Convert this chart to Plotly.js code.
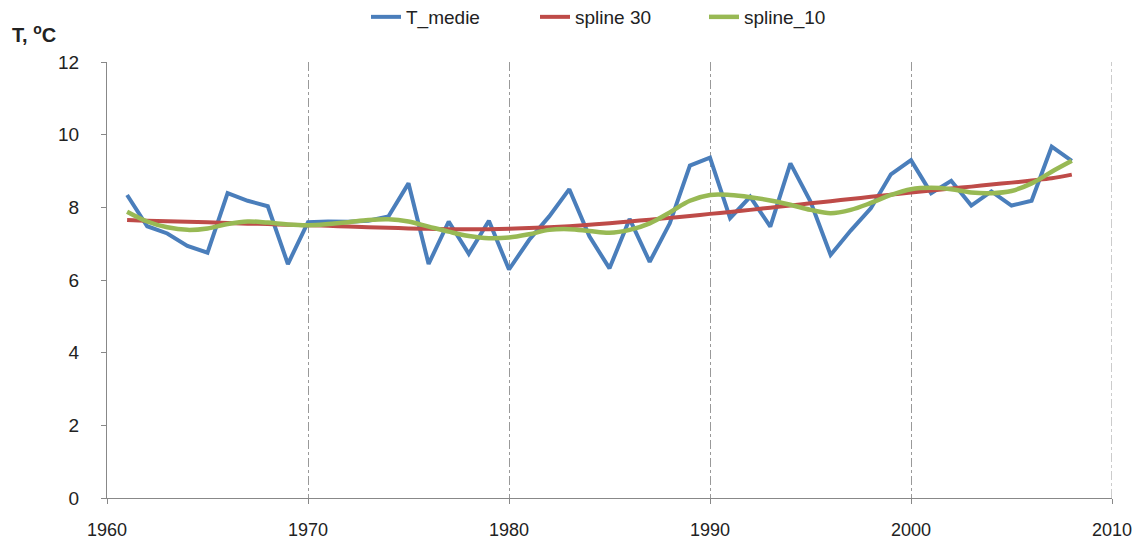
<!DOCTYPE html>
<html>
<head>
<meta charset="utf-8">
<script src="https://cdn.plot.ly/plotly-3.0.1.min.js"></script>
<style>html,body{margin:0;padding:0;background:#fff;}#chart{width:1145px;height:540px;}</style>
</head>
<body>
<div id="chart"></div>
<script>
const years = [1961,1962,1963,1964,1965,1966,1967,1968,1969,1970,1971,1972,1973,1974,1975,1976,1977,1978,1979,1980,1981,1982,1983,1984,1985,1986,1987,1988,1989,1990,1991,1992,1993,1994,1995,1996,1997,1998,1999,2000,2001,2002,2003,2004,2005,2006,2007,2008];
const tMedie = [8.34,7.48,7.28,6.94,6.75,8.39,8.18,8.03,6.44,7.59,7.61,7.60,7.63,7.75,8.66,6.44,7.61,6.72,7.63,6.29,7.10,7.75,8.50,7.20,6.32,7.68,6.50,7.56,9.15,9.37,7.70,8.29,7.47,9.21,8.16,6.69,7.36,7.97,8.91,9.30,8.39,8.73,8.05,8.44,8.05,8.18,9.67,9.28];
const spline30 = [7.65,7.63,7.62,7.60,7.59,7.57,7.55,7.54,7.52,7.51,7.49,7.47,7.45,7.44,7.42,7.41,7.40,7.40,7.40,7.41,7.43,7.45,7.48,7.52,7.56,7.61,7.66,7.71,7.76,7.82,7.87,7.93,7.99,8.05,8.11,8.17,8.23,8.29,8.35,8.41,8.46,8.52,8.57,8.63,8.68,8.74,8.80,8.90];
const spline10 = [7.88,7.61,7.45,7.38,7.42,7.54,7.61,7.58,7.53,7.51,7.54,7.59,7.65,7.67,7.61,7.47,7.33,7.21,7.15,7.17,7.26,7.38,7.40,7.35,7.30,7.38,7.56,7.86,8.18,8.34,8.34,8.28,8.19,8.07,7.93,7.84,7.93,8.12,8.34,8.50,8.54,8.50,8.41,8.39,8.45,8.66,8.98,9.28];
const seriesNames = ['T_medie','spline 30','spline_10'];
const xTicks = [1960,1970,1980,1990,2000,2010];
const yTicks = [0,2,4,6,8,10,12];

const FONT = 'Liberation Sans, Arial, sans-serif';
const traces = [
  {x: years, y: tMedie, name: seriesNames[0], mode: 'lines', line: {color: '#4A7EBB', width: 4}},
  {x: years, y: spline30, name: seriesNames[1], mode: 'lines', line: {color: '#BE4B48', width: 4, shape: 'spline'}},
  {x: years, y: spline10, name: seriesNames[2], mode: 'lines', line: {color: '#98B954', width: 4.5, shape: 'spline'}}
];
const layout = {
  width: 1145, height: 540,
  margin: {l: 107, r: 33, t: 62, b: 42, autoexpand: false},
  paper_bgcolor: '#fff', plot_bgcolor: '#fff',
  font: {family: FONT, size: 19, color: '#222'},
  showlegend: true,
  legend: {orientation: 'h', xref: 'container', yref: 'container', x: 366/1145, xanchor: 'left', y: 1 - 17/540, yanchor: 'middle',
    entrywidth: 124, entrywidthmode: 'pixels',
    font: {family: FONT, size: 19, color: '#222'}, bgcolor: 'rgba(0,0,0,0)'},
  xaxis: {
    range: [1960, 2010], tickvals: xTicks, ticktext: xTicks.map(String),
    showline: true, linecolor: '#888', linewidth: 1,
    ticks: 'outside', ticklen: 5, tickcolor: '#888',
    showgrid: true, gridcolor: '#999', gridwidth: 1, griddash: 'dashdot',
    zeroline: false, ticklabelstandoff: 10,
    tickfont: {family: FONT, size: 18, color: '#222'}
  },
  yaxis: {
    range: [0, 12], tickvals: yTicks, ticktext: yTicks.map(String),
    showline: true, linecolor: '#888', linewidth: 1,
    ticks: 'outside', ticklen: 5, tickcolor: '#888',
    showgrid: false, zeroline: false, ticklabelstandoff: 18,
    tickfont: {family: FONT, size: 19, color: '#222'}
  },
  shapes: [{type: 'line', xref: 'x', yref: 'paper', x0: 2010, x1: 2010, y0: 0, y1: 1,
    line: {color: '#999', width: 1, dash: 'dashdot'}}],
  annotations: [{
    xref: 'paper', yref: 'paper', x: -0.0965, y: 1.0665, xanchor: 'left', yanchor: 'middle',
    text: '<b>T, <sup>o</sup>C</b>', showarrow: false, font: {family: FONT, size: 20, color: '#222'}
  }]
};
Plotly.newPlot('chart', traces, layout, {displayModeBar: false, staticPlot: true});
</script>
</body>
</html>
